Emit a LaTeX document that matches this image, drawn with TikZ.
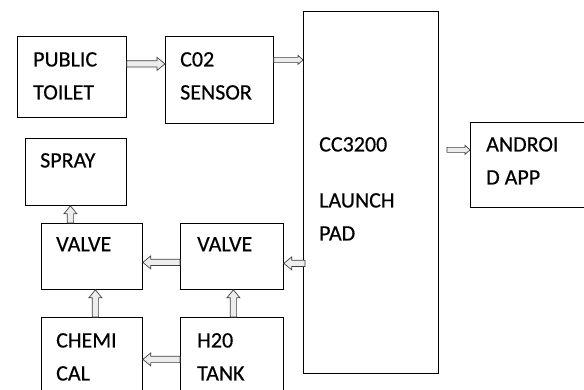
\documentclass[tikz,border=0pt]{standalone}
\usepackage{fontspec}
\setmainfont{Carlito}[FakeBold=0.4]
\usetikzlibrary{arrows.meta, positioning, calc}

\begin{document}
\begin{tikzpicture}[x=1pt, y=-1pt,
  box/.style={draw, line width=0.8pt, anchor=north west, inner sep=0pt},
  lbl/.style={anchor=north west, inner sep=0pt, align=left, font=\fontsize{22}{33}\selectfont},
  blockto/.style n args={3}{draw=black!75, fill=black!7, line width=0.7pt,
    to path={let \p1=(\tikztostart), \p2=(\tikztotarget), \n1={atan2(\y2-\y1,\x2-\x1)} in
      ($(\p1)+(\n1+90:#1)$) -- ($(\p2)+(\n1+180:#3)+(\n1+90:#1)$)
      -- ($(\p2)+(\n1+180:#3)+(\n1+90:#2)$) -- (\p2)
      -- ($(\p2)+(\n1+180:#3)+(\n1-90:#2)$) -- ($(\p2)+(\n1+180:#3)+(\n1-90:#1)$)
      -- ($(\p1)+(\n1-90:#1)$) -- cycle}},
  blk/.style={blockto={3.2pt}{6.5pt}{8pt}},
  blksmall/.style={blockto={2.5pt}{4.5pt}{5pt}}]
  \clip (0,0) rectangle (584,390);
  \fill[white] (0,0) rectangle (584,390);
  % boxes
  \node[box, minimum width=109pt, minimum height=81pt] (toilet) at (17,36) {};
  \node[box, minimum width=108pt, minimum height=87pt] (co2) at (165,36) {};
  \node[box, minimum width=135pt, minimum height=362pt] (launch) at (303,11) {};
  \node[box, minimum width=130pt, minimum height=85pt] (android) at (470,122) {};
  \node[box, minimum width=101pt, minimum height=67pt] (spray) at (25,138) {};
  \node[box, minimum width=101pt, minimum height=66pt] (valveL) at (41,223) {};
  \node[box, minimum width=103pt, minimum height=66pt] (valveR) at (180,223) {};
  \node[box, minimum width=101pt, minimum height=90pt] (chem) at (41,317) {};
  \node[box, minimum width=103pt, minimum height=90pt] (tank) at (180,317) {};
  % texts
  \node[lbl] (toiletT) at ([shift={(16pt,-16pt)}]toilet.north west) {PUBLIC\\TOILET};
  \node[lbl] (co2T) at ([shift={(15pt,-16pt)}]co2.north west) {C02\\SENSOR};
  \node[lbl] (launchT) at ([shift={(16pt,-126pt)}]launch.north west) {CC3200\\[23pt]LAUNCH\\PAD};
  \node[lbl] (androidT) at ([shift={(16pt,-15pt)}]android.north west) {ANDROI\\D APP};
  \node[lbl] (sprayT) at ([shift={(15pt,-15pt)}]spray.north west) {SPRAY};
  \node[lbl] (valveLT) at ([shift={(15pt,-14pt)}]valveL.north west) {VALVE};
  \node[lbl] (valveRT) at ([shift={(17pt,-14pt)}]valveR.north west) {VALVE};
  \node[lbl] (chemT) at ([shift={(15pt,-16pt)}]chem.north west) {CHEMI\\CAL};
  \node[lbl] (tankT) at ([shift={(17pt,-16pt)}]tank.north west) {H20\\TANK};
  % arrows
  \draw[blk] ([yshift=13pt]toilet.east) to ([yshift=13pt]toilet.east -| co2.west);
  \draw[blksmall] ([yshift=20pt]co2.east) to ([yshift=20pt]co2.east -| launch.west);
  \draw[blksmall] ([shift={(-23pt,15pt)}]android.west) to ([yshift=15pt]android.west);
  \draw[blk] ([shift={(2pt,-7pt)}]valveR.east -| launch.west) to ([yshift=-7pt]valveR.east);
  \draw[blk] ([yshift=-6pt]valveR.west) to ([yshift=-6pt]valveL.east);
  \draw[blk] ([yshift=3pt]tank.west) to ([yshift=3pt]chem.east);
  \draw[blk] ([xshift=1.5pt]tank.north) to ([xshift=1.5pt]valveR.south);
  \draw[blk] ([xshift=3.5pt]chem.north) to ([xshift=3.5pt]valveL.south);
  \draw[blk] ([xshift=-21.5pt]valveL.north) to ([xshift=-21.5pt]valveL.north |- spray.south);
\end{tikzpicture}
\end{document}
